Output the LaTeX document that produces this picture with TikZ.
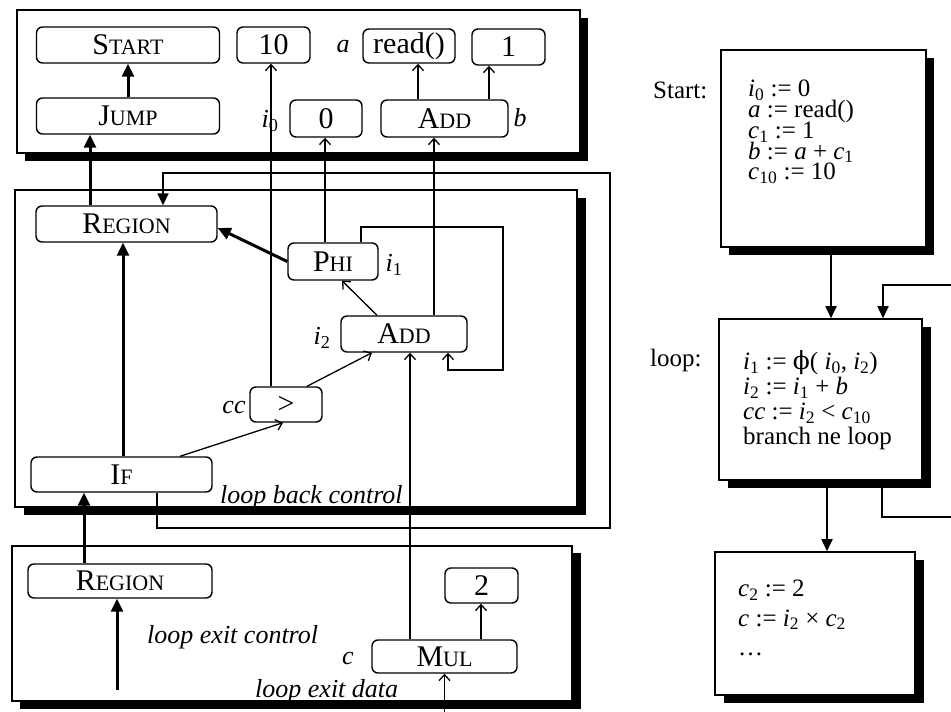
\documentclass[tikz,border=0pt]{standalone}
\usepackage{fontspec}
\setmainfont{Liberation Serif}
\newfontfamily\phifont{DejaVu Serif}
\usetikzlibrary{arrows.meta}
\newcommand\vsub[2]{\textit{#1}\textsubscript{\upshape #2}}
\newcommand\smc[2]{#1{\fontsize{22}{22}\selectfont #2}}
\begin{document}
\begin{tikzpicture}[x=1pt,y=-1pt,
  op/.style={draw, line width=1.4pt, rounded corners=6pt, inner sep=0pt, fill=white, font=\fontsize{30}{30}\selectfont},
  grp/.style={draw, line width=1.6pt, fill=white},
  blk/.style={draw, rectangle, line width=1.6pt, fill=white, inner sep=0pt},
  data/.style={line width=1.3pt, -{Straight Barb[length=6pt,width=11pt,line width=1.3pt]}},
  ctrl/.style={line width=3pt, -{Triangle[length=13pt,width=12pt]}},
  wire/.style={line width=2pt, -{Triangle[length=12pt,width=11pt]}},
  flow/.style={line width=1.8pt, -{Triangle[length=12pt,width=11pt]}},
  lab/.style={inner sep=0pt, font=\fontsize{26}{26}\selectfont\itshape},
  txt/.style={inner sep=0pt, anchor=base west, font=\fontsize{25}{25}\selectfont},
  code/.style={inner sep=0pt, anchor=north west, align=left, execute at begin node={\lineskiplimit=-40pt\lineskip=0pt}},
]
\useasboundingbox (0,0) rectangle (951,712);

% frames with shadows
\fill (25,18) rectangle (588,161);
\draw[grp] (17,10) rectangle (580,153);
\fill (24,198) rectangle (586,515);
\draw[grp] (15,190) rectangle (577,507);
\fill (20,553) rectangle (581,709);
\draw[grp] (12,546) rectangle (572,701);

% nodes
\node[op, minimum width=183, minimum height=36] (start) at (128,45) {\smc{S}{TART}};
\node[op, minimum width=183, minimum height=36] (jump) at (128,116) {\smc{J}{UMP}};
\node[op, minimum width=73, minimum height=36] (ten) at (273.5,45) {10};
\node[op, minimum width=92, minimum height=34] (read) at (409,46) {read()};
\node[op, minimum width=73, minimum height=36] (one) at (508.5,47) {1};
\node[op, minimum width=72, minimum height=37] (zero) at (326,118.5) {0};
\node[op, minimum width=127, minimum height=37] (addb) at (444.5,118.5) {\smc{A}{DD}};
\node[op, minimum width=181, minimum height=36] (region) at (126.5,224) {\smc{R}{EGION}};
\node[op, minimum width=90, minimum height=37] (phi) at (333,261.5) {\smc{P}{HI}};
\node[op, minimum width=126, minimum height=36] (addi) at (404,334) {\smc{A}{DD}};
\node[op, minimum width=72, minimum height=35] (gt) at (286,404.5) {\raisebox{-4pt}{>}};
\node[op, minimum width=181, minimum height=35] (ifn) at (121.5,474.5) {\smc{I}{F}};
\node[op, minimum width=184, minimum height=34] (region2) at (120,581) {\smc{R}{EGION}};
\node[op, minimum width=73, minimum height=35] (two) at (481.5,585.5) {2};
\node[op, minimum width=145, minimum height=33] (mul) at (444.5,656.5) {\smc{M}{UL}};

% coordinates for wires
\coordinate (wA) at (610,528);
\coordinate (wB) at (610,173);
\coordinate (lpA) at (503,227);
\coordinate (lpB) at (503,370);
\coordinate (lec) at (117,690);
\coordinate (led) at (444.5,712);

% control edges
\draw[ctrl] (jump.north) -- (start.south);
\draw[ctrl] ([xshift=-36.5pt]region.north) -- ([xshift=-38pt]jump.south);
\draw[wire] ([xshift=35.5pt]ifn.south) |- (wA) -- (wB) -| ([xshift=36.5pt]region.north);
\draw[ctrl] ([xshift=1.5pt]ifn.north) -- ([xshift=-3.5pt]region.south);
\draw[ctrl] (phi.west) -- ([yshift=-4pt]region.east);
\draw[ctrl] ([xshift=-36pt]region2.north) -- ([xshift=-37.5pt]ifn.south);
\draw[ctrl] (lec) -- ([xshift=-3pt]region2.south);

% data edges
\draw[data] ([xshift=-26.5pt]addb.north) -- ([xshift=9pt]read.south);
\draw[data] ([xshift=44.5pt]addb.north) -- ([xshift=-19.5pt]one.south);
\draw[data] ([xshift=-15pt]gt.north) -- ([xshift=-2.5pt]ten.south);
\draw[data] ([xshift=-8pt]phi.north) -- ([xshift=-1pt]zero.south);
\draw[data] ([xshift=30pt]addi.north) -- ([xshift=-10.5pt]addb.south);
\draw[data] ([xshift=-27pt]addi.north) -- ([xshift=9pt]phi.south);
\draw[data] ([xshift=28pt]phi.north) |- (lpA) -- (lpB) -| ([xshift=44pt]addi.south);
\draw[data] ([xshift=21pt]gt.north) -- ([xshift=-32pt]addi.south);
\draw[data] ([xshift=58.5pt]ifn.north) -- ([xshift=-3pt]gt.south);
\draw[data] ([xshift=-34.5pt]mul.north) -- ([xshift=6pt]addi.south);
\draw[data] ([xshift=36.5pt]mul.north) -- ([xshift=-0.5pt]two.south);
\draw[data] (led) -- (mul.south);

% labels
\node[lab] (la) at (343,47) {a};
\node[lab] (lb) at (520,118) {b};
\node[lab] (li0) at (270,121) {\vsub{i}{0}};
\node[lab] (li1) at (394,265) {\vsub{i}{1}};
\node[lab] (li2) at (322,338) {\vsub{i}{2}};
\node[lab] (lcc) at (234,407) {cc};
\node[lab] (lc) at (348,658) {c};
\node[lab, anchor=west] (lbc) at (220,497) {loop back control};
\node[lab, anchor=west] (lxc) at (147,637) {loop exit control};
\node[lab, anchor=west] (lxd) at (255,691) {loop exit data};

% right side: basic blocks
\fill (729,58) rectangle (934,255);
\node[blk, minimum width=205, minimum height=197] (sbox) at (823.5,148.5) {};
\fill (728,327) rectangle (931,488);
\node[blk, minimum width=203, minimum height=161] (lbox) at (820.5,399.5) {};
\fill (724,560) rectangle (924,703);
\node[blk, minimum width=200, minimum height=143] (ebox) at (815,623.5) {};

\node[txt] (tstart) at (653,98) {Start:};
\node[code, font={\fontsize{25}{20.75}\selectfont}] (stext) at (748,80)
  {\vsub{i}{0} := 0\\ \textit{a} := read()\\ \vsub{c}{1} := 1\\ \textit{b} := \textit{a} + \vsub{c}{1}\\ \vsub{c}{10} := 10};

\node[txt] (tloop) at (650,366) {loop:};
\node[code, font={\fontsize{25}{25}\selectfont}] (ltext) at (743,350.5)
  {\vsub{i}{1} := {\phifont ϕ}( \vsub{i}{0}, \vsub{i}{2})\\ \vsub{i}{2} := \vsub{i}{1} + \textit{b}\\ \textit{cc} := \vsub{i}{2} < \vsub{c}{10}\\ branch ne loop};

\node[code, font={\fontsize{25}{29.5}\selectfont}] (etext) at (738,580)
  {\vsub{c}{2} := 2\\ \textit{c} := \vsub{i}{2} × \vsub{c}{2}\\ …};

\coordinate (rA) at (955,517);
\coordinate (rB) at (955,285);
\draw[flow] ([xshift=7.5pt]sbox.south) -- ([xshift=10.5pt]lbox.north);
\draw[flow] ([xshift=6.5pt]lbox.south) -- ([xshift=12pt]ebox.north);
\draw[line width=1.8pt] ([xshift=61.5pt]lbox.south) |- (rA);
\draw[flow] (rB) -| ([xshift=62.5pt]lbox.north);
\end{tikzpicture}
\end{document}
